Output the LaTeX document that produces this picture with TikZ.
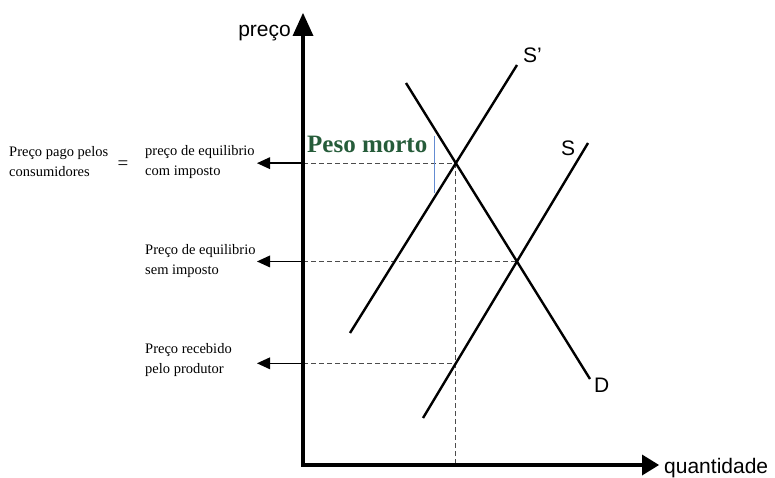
\documentclass[tikz,border=0pt]{standalone}
\usepackage{fontspec}
\setmainfont{Liberation Serif}
\setsansfont{Liberation Sans}
\usetikzlibrary{arrows.meta}
\definecolor{pesogreen}{RGB}{38,92,58}
\definecolor{tickblue}{RGB}{100,140,210}

\begin{document}
\begin{tikzpicture}[
    x=1pt, y=-1pt,
    curve/.style={line width=2.4pt, black},
    guide/.style={black!70, line width=1.2pt, dash pattern=on 5pt off 3pt},
    pointer/.style={-{Triangle[length=13pt, width=12pt, line width=0pt]}, line width=1.4pt},
    axis/.style={line width=4pt},
    lbl/.style={align=left, inner sep=0pt, font=\fontsize{14.5}{20}\selectfont},
    curvelbl/.style={inner sep=0pt, anchor=base west, font=\sffamily\fontsize{21}{24}\selectfont}
  ]
  \useasboundingbox (0,0) rectangle (775,478);

  % end points of the curves
  \coordinate (o) at (303,465);
  \coordinate (d1) at (406,83);  \coordinate (d2) at (590,379);
  \coordinate (s1) at (423,418); \coordinate (s2) at (588,143);
  \coordinate (t1) at (350,333); \coordinate (t2) at (517,65);

  % equilibria
  \coordinate (eqt) at (intersection of d1--d2 and t1--t2);
  \coordinate (eq) at (intersection of d1--d2 and s1--s2);
  \coordinate (qbase) at (eqt |- o);
  \coordinate (prod) at (intersection of s1--s2 and eqt--qbase);

  % points on the price axis
  \coordinate (pc) at (eqt -| o);
  \coordinate (sc) at (eq -| o);
  \coordinate (rc) at (prod -| o);
  \coordinate (pctip) at ([xshift=-46pt]pc);
  \coordinate (sctip) at ([xshift=-46pt]sc);
  \coordinate (rctip) at ([xshift=-46pt]rc);

  \draw[guide] (pc) -- (eqt);
  \draw[guide] (eqt) -- (qbase);
  \draw[guide] (sc) -- (eq);
  \draw[guide] (rc) -- (prod);

  \draw[curve] (d1) -- (d2);
  \draw[curve] (s1) -- (s2);
  \draw[curve] (t1) -- (t2);
  \node[curvelbl] (dlbl) at (594,392) {D};
  \node[curvelbl] (slbl) at (561,156) {S};
  \node[curvelbl] (tlbl) at (523,63) {S'};

  \draw[axis, -{Triangle[length=23pt, width=21pt, line width=0pt]}] (o) -- (303,13);
  \draw[axis, -{Triangle[length=17pt, width=21pt, line width=0pt]}] ([xshift=-2pt]o) -- (659,465);
  \node[curvelbl, anchor=base east] (preco) at (291,37) {preço};
  \node[curvelbl] (quant) at (664,473) {quantidade};

  \node[inner sep=0pt, anchor=base west, text=pesogreen, font=\bfseries\fontsize{25}{30}\selectfont] (peso) at (307,153) {Peso morto};
  \draw[tickblue, line width=0.9pt] (434,136) -- (434,193);

  \draw[pointer] (pc) -- (pctip);
  \draw[pointer] (sc) -- (sctip);
  \draw[pointer] (rc) -- (rctip);

  \node[lbl, anchor=west] (pago) at (9,162) {Preço pago pelos\\consumidores};
  \node[inner sep=0pt, font=\fontsize{19}{20}\selectfont] (igual) at (123,165) {=};
  \node[lbl, anchor=west] (comimp) at (145,162) {preço de equilibrio\\com imposto};
  \node[lbl, anchor=west] (semimp) at (145,261) {Preço de equilibrio\\sem imposto};
  \node[lbl, anchor=west] (receb) at (145,360) {Preço recebido\\pelo produtor};
\end{tikzpicture}
\end{document}
